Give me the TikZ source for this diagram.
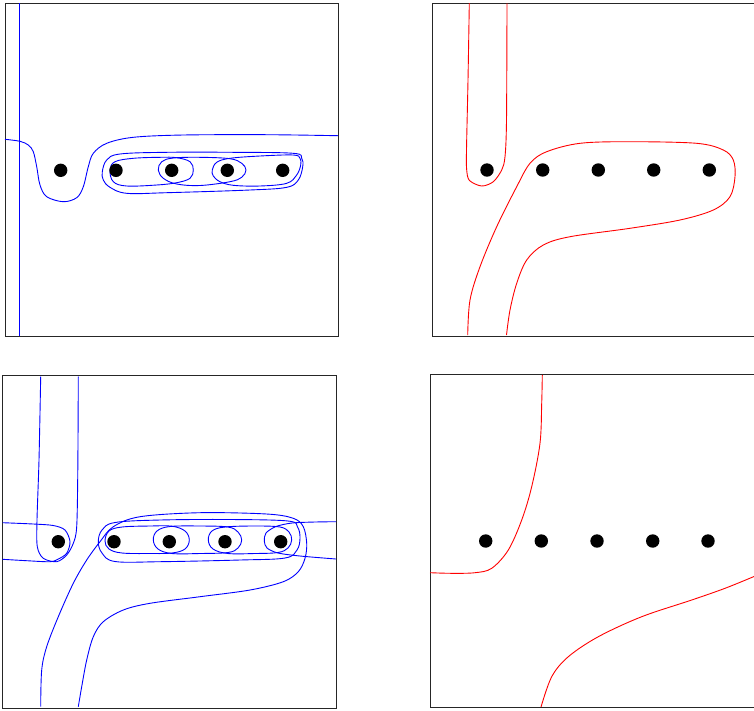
\documentclass[tikz,border=0pt]{standalone}
\begin{document}
\begin{tikzpicture}[x=1pt,y=-1pt,
  frame/.style={draw=black!85, line width=0.9pt},
  bcurve/.style={draw=blue, line width=0.9pt},
  rcurve/.style={draw=red, line width=0.9pt},
  dot/.style={circle, fill=black, inner sep=0pt, minimum size=13.4pt}]
\useasboundingbox (0,0) rectangle (754,710);

% ---------------- Panel 1 ----------------
\draw[frame] (5,3) rectangle (338,336);
\draw[bcurve] (19.3,3) -- (19.3,336);
\draw[bcurve] plot[smooth, tension=0.55] coordinates {(5,139.3) (20,141.3) (28.3,145) (33.3,151.7) (36.7,166.7) (40,185) (46.7,196.7) (63.3,201.7) (76.7,197.7) (83.3,186.7) (88.3,166.7) (93.3,153.3) (106.7,143.3) (133.3,137.3) (183.3,135) (266.7,134.7) (338,135.7)};
% outer oval
\draw[bcurve] plot[smooth cycle, tension=0.6] coordinates {(102.3,171.7) (106.7,160) (120,154) (166.7,152.3) (233.3,152.3) (293.3,153.3) (301.7,158.3) (302.7,166.7) (298.3,180) (286.7,187.3) (250,190) (166.7,192.7) (126.7,193.3) (110,187.3) (103.3,180)};
% oval A (2-3)
\draw[bcurve] plot[smooth cycle, tension=0.6] coordinates {(110,170) (115,161.7) (133.3,158.3) (160,157.3) (176.7,157.7) (190,161.7) (193.3,170) (190,178.3) (176.7,182.7) (156.7,185) (126.7,186) (113.3,181.7)};
% oval B (3-4)
\draw[bcurve] plot[smooth cycle, tension=0.6] coordinates {(158.3,170) (161.7,161.7) (173.3,158) (200,157.3) (230,158.7) (241.7,163.3) (246,170) (241.7,177.3) (230,181.7) (200,185.5) (176.7,184) (163.3,178.3)};
% oval C (4-5)
\draw[bcurve] plot[smooth cycle, tension=0.6] coordinates {(212.3,170) (216.7,162.3) (230,158.3) (260,156) (293.3,155) (300,158.3) (300.7,165) (296.7,175) (286.7,183.3) (260,186) (233.3,185.3) (220,181.7) (213.3,176)};
\node[dot] (p1a) at (60.7,170.3) {};
\node[dot] (p1b) at (116,170.3) {};
\node[dot] (p1c) at (171.7,170.3) {};
\node[dot] (p1d) at (227.3,170.3) {};
\node[dot] (p1e) at (282.7,170.3) {};

% ---------------- Panel 2 ----------------
\draw[frame] (765,3) -- (432,3) -- (432,336) -- (765,336);
\draw[rcurve] plot[smooth, tension=0.5] coordinates {(469.3,3.3) (468,80) (466.5,150) (466.7,170) (469.5,180.5) (481.7,186) (493.3,181.7) (501.7,170) (505,156.7) (506.5,120) (507,3.3)};
\draw[rcurve] plot[smooth, tension=0.55] coordinates {(467.7,335) (470,300) (480,266.7) (496.7,226.7) (516.7,186.7) (530,163.3) (546.7,151.7) (580,143.3) (630,141.7) (696.7,143.3) (723.3,150) (733.3,160) (735,176.7) (730,196.7) (713.3,210) (680,220) (630,228.3) (570,236.7) (543.3,245) (526.7,260) (516.7,283.3) (510,310) (506.5,335)};
\node[dot] (p2a) at (487,170) {};
\node[dot] (p2b) at (542.7,170) {};
\node[dot] (p2c) at (598.3,170) {};
\node[dot] (p2d) at (653.7,170) {};
\node[dot] (p2e) at (709.3,170) {};

% ---------------- Panel 3 ----------------
\draw[frame] (2.7,375) rectangle (336,708);
% vertical U from top
\draw[bcurve] plot[smooth, tension=0.5] coordinates {(40.7,376.7) (39,460) (37,520) (37.3,546.7) (43.3,558.3) (56.7,561.7) (66.7,555) (73.3,543.3) (76.7,526.7) (77.8,470) (78.3,376.7)};
% horizontal U from left
\draw[bcurve] plot[smooth, tension=0.5] coordinates {(2.7,522.7) (33.3,524) (53.3,525.5) (65,530) (70,541.7) (66.7,553.3) (58.3,559) (50,561.7) (26.7,560.7) (2.7,559.3)};
% horizontal U from right
\draw[bcurve] plot[smooth, tension=0.5] coordinates {(336,521.7) (315,522) (292,523) (276,526.5) (266,533) (264.3,541) (267,548) (278,553) (300,556) (336,559)};
% big curve from bottom
\draw[bcurve] plot[smooth, tension=0.55] coordinates {(40.7,706.7) (41.7,670) (46.7,646.7) (58.3,616.7) (73.3,583.3) (86.7,560) (100,541.7) (113.3,526.7) (140,516.7) (200,512.7) (266.7,514) (293.3,518.3) (303.3,526.7) (306.7,543.3) (305,558.3) (298.3,571.7) (283.3,581.7) (250,590) (200,596.7) (150,603.3) (123.3,610) (103.3,621.7) (93.3,636.7) (86.7,660) (81.7,686.7) (78.3,706.7)};
% outer oval
\draw[bcurve] plot[smooth cycle, tension=0.6] coordinates {(98.3,541.7) (102,530) (115,522.5) (160,520) (230,519.5) (288,521) (297.5,527) (300,538) (297,550) (285,558) (240,560) (160,561.7) (115,561.5) (102,553)};
% oval A
\draw[bcurve] plot[smooth cycle, tension=0.6] coordinates {(105,541) (109,531) (122,527) (150,526) (172,526.2) (185,531) (189.3,540) (185,549) (172,553) (150,553.5) (122,553) (109,549)};
% oval B
\draw[bcurve] plot[smooth cycle, tension=0.6] coordinates {(153.3,540) (157,531) (170,526.5) (200,526) (228,527) (238,532) (241.7,540) (238,548) (228,552.5) (200,553.5) (172,553.5) (158,549)};
% oval C
\draw[bcurve] plot[smooth cycle, tension=0.6] coordinates {(208.3,540) (212,531) (225,527) (255,526) (280,527) (289,532) (291.7,540) (288,548) (278,552.5) (255,553.5) (228,553.5) (213,549)};
\node[dot] (p3a) at (58.3,541.7) {};
\node[dot] (p3b) at (114,541.7) {};
\node[dot] (p3c) at (169.3,541.7) {};
\node[dot] (p3d) at (225,541.7) {};
\node[dot] (p3e) at (280.7,541.7) {};

% ---------------- Panel 4 ----------------
\draw[frame] (765,374.5) -- (430,374.5) -- (430,707.5) -- (765,707.5);
\draw[rcurve] plot[smooth, tension=0.55] coordinates {(542.3,375) (541.7,403.3) (540,443.3) (531.7,486.7) (521.7,520) (508.3,550) (491.7,568.3) (475,572.7) (451.7,573.3) (430,572.7)};
\draw[rcurve] plot[smooth, tension=0.55] coordinates {(541,707) (551.7,676.7) (568.3,656.7) (598.3,636.7) (641.7,616.7) (691.7,600) (725,588.3) (754,576.5)};
\node[dot] (p4a) at (485.7,541) {};
\node[dot] (p4b) at (541.3,541) {};
\node[dot] (p4c) at (597,541) {};
\node[dot] (p4d) at (652.7,541) {};
\node[dot] (p4e) at (708,541) {};
\end{tikzpicture}
\end{document}
